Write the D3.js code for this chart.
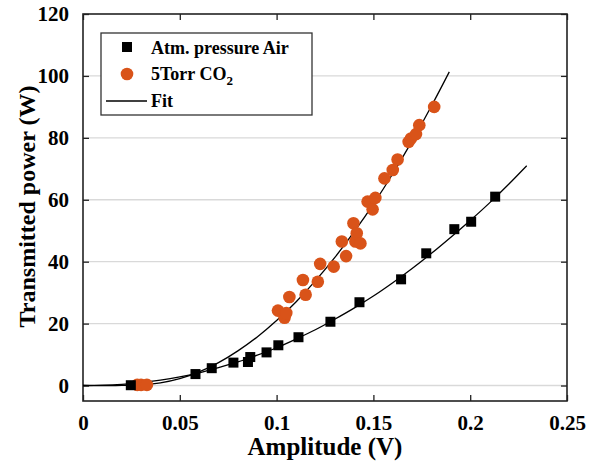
<!DOCTYPE html>
<html>
<head>
<meta charset="utf-8">
<script src="https://cdn.jsdelivr.net/npm/d3@7"></script>
<style>
  body { margin: 0; background: #fff; }
  text { font-family: "Liberation Serif", "Times New Roman", serif; font-weight: bold; }
</style>
</head>
<body>
<div id="chart"></div>
<script>
// datos
const xTicks = [0, 0.05, 0.1, 0.15, 0.2, 0.25];
const xTickLabels = ["0", "0.05", "0.1", "0.15", "0.2", "0.25"];
const yTicks = [0, 20, 40, 60, 80, 100, 120];

// Atm. pressure Air (cuadrados)
const airX = [0.0247, 0.0581, 0.0665, 0.0777, 0.0852, 0.0864, 0.0948, 0.1009, 0.1113, 0.1278, 0.1428, 0.1643, 0.1773, 0.1918, 0.2005, 0.2129];
const airY = [0.1, 3.7, 5.6, 7.4, 7.6, 9.2, 10.7, 13.0, 15.6, 20.6, 26.9, 34.3, 42.7, 50.5, 52.9, 61.0];

// 5Torr CO2 (circulos)
const co2X = [0.028, 0.030, 0.033, 0.1007, 0.1041, 0.105, 0.1066, 0.1136, 0.115, 0.1213, 0.1225, 0.1295, 0.1337, 0.1359, 0.1397, 0.1407, 0.1414, 0.1433, 0.147, 0.1496, 0.151, 0.1557, 0.16, 0.1625, 0.1682, 0.1694, 0.172, 0.1737, 0.1814];
const co2Y = [0.2, 0.2, 0.2, 24.2, 21.9, 23.4, 28.6, 34.1, 29.3, 33.5, 39.3, 38.4, 46.5, 41.8, 52.4, 46.5, 49.2, 45.9, 59.4, 56.9, 60.6, 66.9, 69.6, 73.0, 78.7, 79.8, 81.2, 84.1, 90.0];

// curvas de ajuste (leidas punto a punto)
const fitAirX = [0, 0.01, 0.02, 0.03, 0.04, 0.05, 0.06, 0.07, 0.08, 0.09, 0.1, 0.11, 0.12, 0.13, 0.14, 0.15, 0.16, 0.17, 0.18, 0.19, 0.2, 0.21, 0.22, 0.2292];
const fitAirY = [0, 0.1, 0.4, 0.95, 1.75, 2.8, 4.1, 5.75, 7.6, 9.8, 12.2, 15.0, 18.0, 21.4, 25.0, 28.9, 33.2, 37.8, 42.7, 47.9, 53.3, 59.0, 65.1, 71.0];
const fitCo2X = [0, 0.01, 0.02, 0.03, 0.04, 0.05, 0.06, 0.07, 0.08, 0.09, 0.1, 0.11, 0.12, 0.13, 0.14, 0.15, 0.16, 0.17, 0.18, 0.1892];
const fitCo2Y = [0, -0.05, 0.05, 0.25, 0.85, 2.2, 4.4, 7.4, 11.2, 15.7, 21.0, 27.0, 33.8, 41.3, 49.6, 58.6, 68.4, 79.0, 90.3, 101.3];

const svgWidth = 596, svgHeight = 466;
const margin = { top: 14, right: 29, bottom: 65, left: 83 };
const width = svgWidth - margin.left - margin.right;
const height = svgHeight - margin.top - margin.bottom;

const svg = d3.select("#chart").append("svg")
    .attr("width", svgWidth)
    .attr("height", svgHeight)
    .append("g")
    .attr("transform", `translate(${margin.left}, ${margin.top})`);

const x = d3.scaleLinear().domain([0, 0.25]).range([0, width]);
const y = d3.scaleLinear().domain([-5, 120]).range([height, 0]);

// rejilla horizontal
svg.append("g")
    .selectAll("line")
    .data(yTicks.slice(0, -1))
    .enter().append("line")
    .attr("x1", 0).attr("x2", width)
    .attr("y1", d => y(d)).attr("y2", d => y(d))
    .attr("stroke", "#d9d9d9")
    .attr("stroke-width", 1.3);

// ejes
const tickLen = 6;
const fmtX = (d, i) => xTickLabels[i];

svg.append("g")
    .attr("transform", `translate(0, ${height})`)
    .call(d3.axisBottom(x).tickValues(xTicks).tickFormat(fmtX).tickSizeInner(-tickLen).tickSizeOuter(0).tickPadding(14))
    .call(g => g.select(".domain").remove());

svg.append("g")
    .call(d3.axisTop(x).tickValues(xTicks).tickFormat("").tickSizeInner(-tickLen).tickSizeOuter(0))
    .call(g => g.select(".domain").remove());

svg.append("g")
    .call(d3.axisLeft(y).tickValues(yTicks).tickSizeInner(-tickLen).tickSizeOuter(0).tickPadding(14))
    .call(g => g.select(".domain").remove());

svg.append("g")
    .attr("transform", `translate(${width}, 0)`)
    .call(d3.axisRight(y).tickValues(yTicks).tickFormat("").tickSizeInner(-tickLen).tickSizeOuter(0))
    .call(g => g.select(".domain").remove());

svg.selectAll(".tick line").attr("stroke", "#222").attr("stroke-width", 1.3);
svg.selectAll(".tick text")
    .attr("font-size", 21)
    .attr("fill", "#000")
    .style("font-family", '"Liberation Serif", serif')
    .style("font-weight", "bold");

svg.append("rect")
    .attr("width", width).attr("height", height)
    .attr("fill", "none")
    .attr("stroke", "#222")
    .attr("stroke-width", 1.6);

// lineas de ajuste
const line = d3.line().x(d => x(d[0])).y(d => y(d[1])).curve(d3.curveMonotoneX);
const fitAir = fitAirX.map((v, i) => [v, fitAirY[i]]);
const fitCo2 = fitCo2X.map((v, i) => [v, fitCo2Y[i]]);
[fitCo2, fitAir].forEach(f => {
    svg.append("path")
        .datum(f)
        .attr("d", line)
        .attr("fill", "none")
        .attr("stroke", "#000")
        .attr("stroke-width", 1.3);
});

// puntos
const orange = "#d95319";
svg.append("g").selectAll("circle")
    .data(co2X.map((v, i) => [v, co2Y[i]]))
    .enter().append("circle")
    .attr("cx", d => x(d[0]))
    .attr("cy", d => y(d[1]))
    .attr("r", 6.3)
    .attr("fill", orange);

const sq = 10;
svg.append("g").selectAll("rect")
    .data(airX.map((v, i) => [v, airY[i]]))
    .enter().append("rect")
    .attr("x", d => x(d[0]) - sq / 2)
    .attr("y", d => y(d[1]) - sq / 2)
    .attr("width", sq).attr("height", sq)
    .attr("fill", "#000");

// titulos de ejes
svg.append("text")
    .attr("x", width / 2)
    .attr("y", height + 54)
    .attr("text-anchor", "middle")
    .attr("font-size", 25)
    .text("Amplitude (V)");

svg.append("text")
    .attr("transform", `translate(${-48}, ${height / 2 - 1}) rotate(-90)`)
    .attr("text-anchor", "middle")
    .attr("font-size", 24)
    .text("Transmitted power (W)");

// leyenda
const legend = svg.append("g").attr("transform", "translate(18, 19)");
legend.append("rect")
    .attr("width", 211).attr("height", 82)
    .attr("fill", "#fff")
    .attr("stroke", "#333")
    .attr("stroke-width", 1.3);

legend.append("rect")
    .attr("x", 21).attr("y", 9).attr("width", 10).attr("height", 10)
    .attr("fill", "#000");
legend.append("text")
    .attr("x", 50).attr("y", 21)
    .attr("font-size", 18)
    .text("Atm. pressure Air");

legend.append("circle")
    .attr("cx", 26).attr("cy", 41).attr("r", 6.3)
    .attr("fill", orange);
const co2Label = legend.append("text")
    .attr("x", 50).attr("y", 47)
    .attr("font-size", 18);
co2Label.append("tspan").text("5Torr CO");
co2Label.append("tspan").attr("dy", 5).attr("font-size", 13).text("2");

legend.append("line")
    .attr("x1", 5).attr("x2", 46)
    .attr("y1", 68).attr("y2", 68)
    .attr("stroke", "#000")
    .attr("stroke-width", 1.3);
legend.append("text")
    .attr("x", 50).attr("y", 74)
    .attr("font-size", 18)
    .text("Fit");
</script>
</body>
</html>
